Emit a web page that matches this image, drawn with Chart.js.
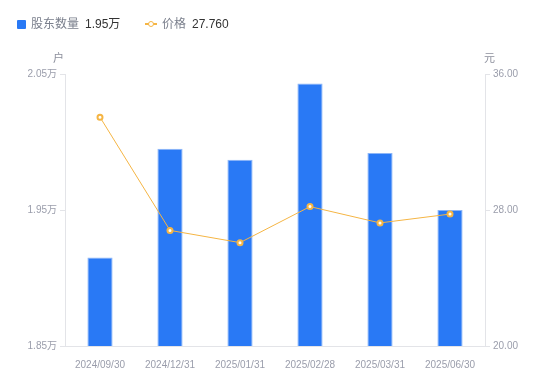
<!DOCTYPE html>
<html>
<head>
<meta charset="utf-8">
<script src="https://cdn.jsdelivr.net/npm/chart.js@4/dist/chart.umd.min.js"></script>
<style>
  html, body { margin: 0; padding: 0; background: #fff; }
  #wrap { position: relative; width: 550px; height: 381px; font-family: "Liberation Sans", "Noto Sans CJK SC", sans-serif; }
  canvas { position: absolute; left: 0; top: 0; }
  .lg { position: absolute; top: 16px; font-size: 12px; line-height: 16px; white-space: nowrap; }
  .lg .name { color: #7a7f8c; }
  .lg .val { color: #333; margin-left: 6px; }
  .sq { position: absolute; left: 17px; top: 20px; width: 9px; height: 9px; background: #2979f5; border-radius: 1px; }
  .ln { position: absolute; left: 145px; top: 23px; width: 12px; height: 1.5px; background: #f5b544; }
  .dot { position: absolute; left: 147.5px; top: 20.5px; width: 4px; height: 4px; border: 1.8px solid #f5b544; border-radius: 50%; background: #fff; }
  .unit { position: absolute; top: 49px; font-size: 11px; color: #8c8f9c; }
</style>
</head>
<body>
<div id="wrap">
  <canvas id="c" width="550" height="381"></canvas>
  <div class="sq"></div>
  <div class="lg" style="left:31px"><span class="name">股东数量</span><span class="val">1.95万</span></div>
  <div class="ln"></div><div class="dot"></div>
  <div class="lg" style="left:162px"><span class="name">价格</span><span class="val">27.760</span></div>
  <div class="unit" style="left:53px">户</div>
  <div class="unit" style="left:484px">元</div>
</div>
<script>
const categories = ["2024/09/30", "2024/12/31", "2025/01/31", "2025/02/28", "2025/03/31", "2025/06/30"];
const holders = [1.915, 1.995, 1.987, 2.043, 1.992, 1.950]; // 万户
const prices = [33.46, 26.80, 26.08, 28.20, 27.24, 27.76]; // 元
const leftTicks = [1.85, 1.95, 2.05];
const rightTicks = [20, 28, 36];

const tickFont = { family: "'Liberation Sans', 'Noto Sans CJK SC', sans-serif", size: 10 };
const tickColor = "#9a9dab";
const axisColor = "#e3e4e8";

new Chart(document.getElementById("c"), {
  data: {
    labels: categories,
    datasets: [
      {
        type: "line",
        label: "价格",
        data: prices,
        yAxisID: "y1",
        borderColor: "#f5b544",
        borderWidth: 1,
        pointRadius: 2.5,
        pointBorderWidth: 2,
        pointBackgroundColor: "#fff",
        pointBorderColor: "#f5b544",
        tension: 0,
        order: 0
      },
      {
        type: "bar",
        label: "股东数量",
        data: holders,
        yAxisID: "y",
        backgroundColor: "#2979f5",
        borderColor: "#8db6f7",
        borderWidth: { top: 1, left: 1, right: 1, bottom: 0 },
        barPercentage: 0.36,
        categoryPercentage: 1,
        order: 1
      }
    ]
  },
  options: {
    responsive: false,
    animation: false,
    layout: { padding: { top: 74, left: 0, right: 0, bottom: 0 } },
    plugins: { legend: { display: false }, tooltip: { enabled: false } },
    scales: {
      x: {
        grid: { display: false },
        border: { display: true, color: axisColor },
        ticks: { color: tickColor, font: tickFont, padding: 5, maxRotation: 0 },
        afterFit: s => { s.height = 35; }
      },
      y: {
        position: "left",
        min: 1.85, max: 2.05,
        afterBuildTicks: s => { s.ticks = leftTicks.map(v => ({ value: v })); },
        grid: { drawOnChartArea: false, color: axisColor, tickLength: 5 },
        border: { display: true, color: axisColor },
        ticks: { color: tickColor, font: tickFont, padding: 3, callback: v => v.toFixed(2) + "万" },
        afterFit: s => { s.width = 65; }
      },
      y1: {
        position: "right",
        min: 20, max: 36,
        afterBuildTicks: s => { s.ticks = rightTicks.map(v => ({ value: v })); },
        grid: { drawOnChartArea: false, color: axisColor, tickLength: 5 },
        border: { display: true, color: axisColor },
        ticks: { color: tickColor, font: tickFont, padding: 3, callback: v => v.toFixed(2) },
        afterFit: s => { s.width = 65; }
      }
    }
  }
});
</script>
</body>
</html>
